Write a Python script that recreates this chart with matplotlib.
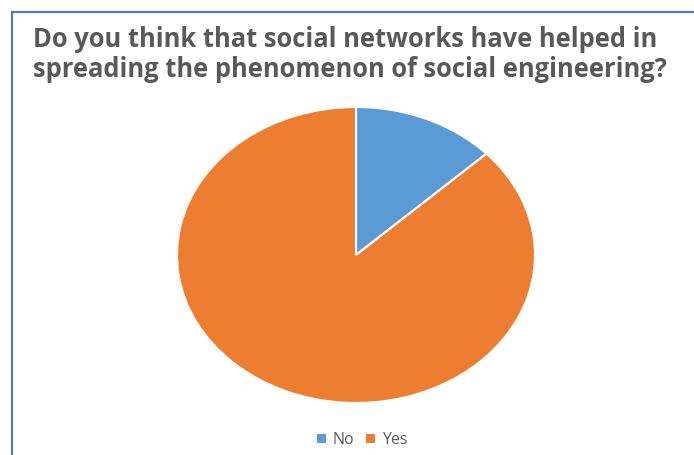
import matplotlib
matplotlib.use("Agg")
import matplotlib.pyplot as plt
from matplotlib.lines import Line2D

labels = ["No", "Yes"]
values = [13, 87]
colors = ["#5B9BD5", "#ED7D31"]
title = "Do you think that social networks have helped in\nspreading the phenomenon of social engineering?"

W, H = 694, 455
fig = plt.figure(figsize=(W / 100, H / 100), dpi=100)
fig.patch.set_facecolor("white")

# frame border (left and top only visible)
border = "#4A7EBB"
fig.add_artist(Line2D([12 / W, 12 / W], [0, 1 - 12 / H], transform=fig.transFigure, color=border, lw=1.6))
fig.add_artist(Line2D([12 / W, 1], [1 - 12 / H, 1 - 12 / H], transform=fig.transFigure, color=border, lw=1.6))

# title
fig.text(33 / W, 1 - 26 / H, title, ha="left", va="top", fontsize=18.4, fontweight="bold",
         color="#595959", family="Open Sans", linespacing=1.15)

# pie axes (elliptical)
cx, cy, rx, ry = 356, 255, 179, 148
ax = fig.add_axes([(cx - rx) / W, 1 - (cy + ry) / H, 2 * rx / W, 2 * ry / H])
wedges, _ = ax.pie(values, colors=colors, startangle=90, counterclock=False,
                   wedgeprops=dict(edgecolor="white", linewidth=1.5))
ax.set_aspect("auto")
ax.set_xlim(-1, 1)
ax.set_ylim(-1, 1)
ax.axis("off")

leg = fig.legend(wedges, labels, loc="center", bbox_to_anchor=(362 / W, 1 - 440 / H), ncol=2,
                 frameon=False, handlelength=0.55, handleheight=0.55, handletextpad=0.4,
                 columnspacing=0.8, prop={"family": "Open Sans", "size": 11.5})
for t in leg.get_texts():
    t.set_color("#595959")
for h in leg.legend_handles:
    h.set_edgecolor("none")

fig.savefig("out.png", dpi=100)
